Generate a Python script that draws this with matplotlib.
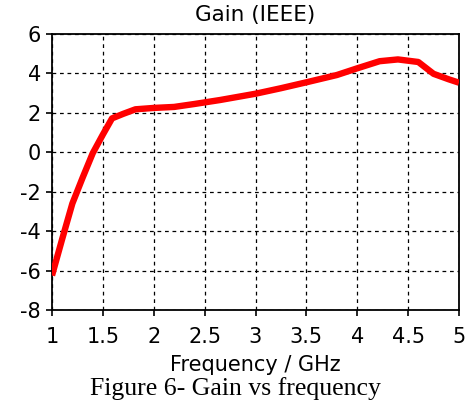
import matplotlib
matplotlib.use("Agg")
import matplotlib.pyplot as plt

plt.rcParams["axes.unicode_minus"] = False

# Gain curve
freq = [1.0, 1.1, 1.2, 1.3, 1.4, 1.5, 1.59, 1.7, 1.82, 2.0, 2.2, 2.4, 2.65, 3.0, 3.25, 3.5, 3.8, 4.0, 4.22, 4.4, 4.6, 4.75, 4.9, 5.0]
gain = [-6.25, -4.4, -2.6, -1.3, -0.05, 0.9, 1.72, 1.95, 2.18, 2.25, 2.3, 2.45, 2.65, 2.97, 3.25, 3.55, 3.92, 4.26, 4.62, 4.71, 4.58, 3.98, 3.7, 3.53]

xticks = [1, 1.5, 2, 2.5, 3, 3.5, 4, 4.5, 5]
xticklabels = ["1", "1.5", "2", "2.5", "3", "3.5", "4", "4.5", "5"]
yticks = [-8, -6, -4, -2, 0, 2, 4, 6]

fig = plt.figure(figsize=(4.7, 4.05), dpi=100)
ax = fig.add_axes([52 / 470, 1 - 310 / 405, 407 / 470, 276 / 405])

ax.plot(freq, gain, color="#ff0000", linewidth=4.6, solid_capstyle="butt", zorder=3)

ax.set_xlim(1, 5)
ax.set_ylim(-8, 6)
ax.set_xticks(xticks)
ax.set_xticklabels(xticklabels)
ax.set_yticks(yticks)
ax.grid(True, color="black", linestyle=(0, (3, 3)), linewidth=0.9)
ax.tick_params(direction="out", length=4, width=1.2, labelsize=15, pad=4)
ax.tick_params(axis="x", pad=8)
for s in ax.spines.values():
    s.set_linewidth(1.3)

ax.set_title("Gain (IEEE)", fontsize=15.5, pad=9)
ax.set_xlabel("Frequency / GHz", fontsize=15, labelpad=6)

fig.text(0.5, 1 - 389 / 405, "Figure 6- Gain vs frequency", ha="center", va="center",
         family="Liberation Serif", fontsize=18.5)

fig.savefig("out.png", dpi=100)
